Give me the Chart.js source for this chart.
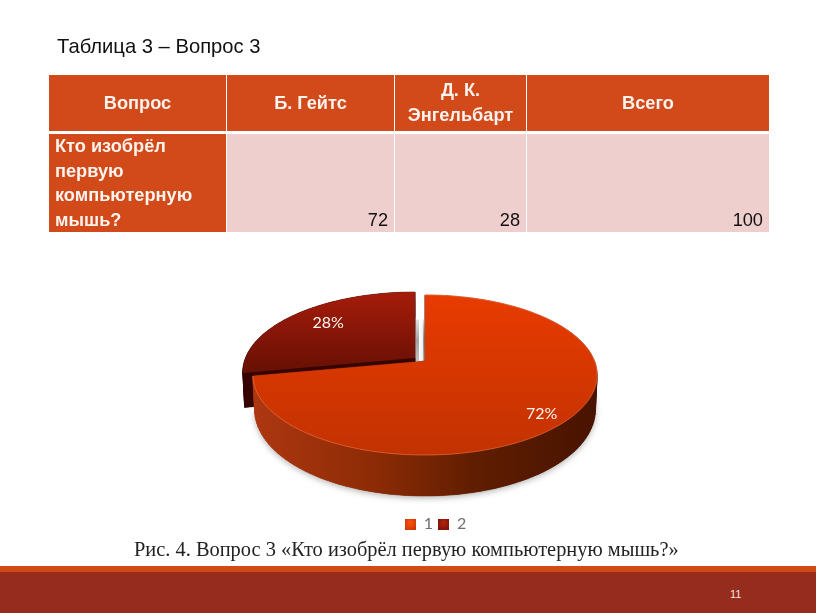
<!DOCTYPE html>
<html lang="ru">
<head>
<meta charset="utf-8">
<title>Таблица 3 – Вопрос 3</title>
<script src="https://cdn.jsdelivr.net/npm/chart.js@4/dist/chart.umd.js"></script>
<style>
  html, body { margin: 0; padding: 0; background: #fff; }
  #slide { position: relative; width: 816px; height: 613px; overflow: hidden; font-family: "Liberation Sans", Arial, sans-serif; }
  #grafico { position: absolute; left: 0; top: 0; }
  #titulo { position: absolute; left: 57px; top: 34px; font-size: 20.2px; line-height: 24px; color: #111; white-space: nowrap; }
  #tabela { position: absolute; left: 49px; top: 75px; width: 720px; border-collapse: separate; border-spacing: 0; table-layout: fixed; font-size: 18.2px; }
  #tabela th { background: #d2491a; color: #fbf3ee; height: 59px; padding: 0 4px; font-weight: bold; text-align: center; line-height: 25px; border-right: 1px solid #fff; border-bottom: 3px solid #fff; box-sizing: border-box; }
  #tabela td { background: #eecfcd; color: #111; height: 98px; padding: 0 6px 2px 0; text-align: right; vertical-align: bottom; line-height: 20px; border-right: 1px solid #fff; box-sizing: border-box; }
  #tabela td.pergunta { background: #d2491a; color: #fbf3ee; font-weight: bold; text-align: left; padding: 0 0 0 6px; line-height: 24.5px; vertical-align: middle; }
  #tabela th:last-child, #tabela td:last-child { border-right: 0; }
  #legenda { position: absolute; left: 134px; top: 537px; font-family: "Liberation Serif", "Times New Roman", serif; font-size: 20.4px; line-height: 24px; color: #222; white-space: nowrap; }
  #faixa { position: absolute; left: 0; top: 566px; width: 816px; height: 47px; background: #962c1e; border-top: 6px solid #d14a17; box-sizing: border-box; }
  #pagina { position: absolute; left: 730px; top: 588px; font-size: 11px; line-height: 12px; color: #f3e6e0; }
</style>
</head>
<body>
<div id="slide">
  <canvas id="grafico" width="816" height="613"></canvas>
  <div id="titulo">Таблица 3 – Вопрос 3</div>
  <table id="tabela">
    <colgroup><col style="width:178px"><col style="width:168px"><col style="width:132px"><col style="width:242px"></colgroup>
    <tr id="cabecalho"></tr>
    <tr id="linha"></tr>
  </table>
  <div id="legenda">Рис. 4. Вопрос 3 «Кто изобрёл первую компьютерную мышь?»</div>
  <div id="faixa"></div>
  <div id="pagina">11</div>
</div>
<script>
const categorias = ['1', '2'];
const valores = [72, 28];
const colunas = ['Вопрос', 'Б. Гейтс', 'Д. К. Энгельбарт', 'Всего'];
const pergunta = 'Кто изобрёл первую компьютерную мышь?';
const respostas = [72, 28, 100];

// tabela do slide
colunas.forEach(function (c) {
  const th = document.createElement('th');
  th.textContent = c;
  document.getElementById('cabecalho').appendChild(th);
});
const tdPergunta = document.createElement('td');
tdPergunta.className = 'pergunta';
tdPergunta.textContent = pergunta;
document.getElementById('linha').appendChild(tdPergunta);
respostas.forEach(function (r) {
  const td = document.createElement('td');
  td.textContent = r;
  document.getElementById('linha').appendChild(td);
});

// geometria da pizza em perspectiva
const centroX = 425, centroY = 361;
const raioX = 169.5, inclina = 14.4, perspectiva = -0.175;
const deslocamento = [[0, 0], [-10, -3]]; // fatia 2 puxada para fora
const ajusteRotulo = [[2, 9], [9, 1]];

function projetar(u, v, fatia, fundo) {
  const den = 1 + perspectiva * v;
  const d = deslocamento[fatia];
  let x = centroX + raioX * u / den + d[0];
  let y = (centroY + inclina * v) / den + d[1];
  if (fundo) {
    x = centroX + (x - centroX) * 0.99;
    y += 33 + 8 * v;
  }
  return [x, y];
}

function contorno(arco, fatia, fundo) {
  const pts = [projetar(0, 0, fatia, fundo)];
  for (let i = 0; i <= 120; i++) {
    const a = arco.startAngle + (arco.endAngle - arco.startAngle) * i / 120;
    pts.push(projetar(Math.cos(a), Math.sin(a), fatia, fundo));
  }
  return pts;
}

function tracar(ctx, pts, fechar) {
  ctx.beginPath();
  pts.forEach(function (p, i) {
    if (i === 0) ctx.moveTo(p[0], p[1]); else ctx.lineTo(p[0], p[1]);
  });
  if (fechar) ctx.closePath();
}

function gradiente(ctx, x0, y0, x1, y1, paradas) {
  const g = ctx.createLinearGradient(x0, y0, x1, y1);
  paradas.forEach(function (p) { g.addColorStop(p[0], p[1]); });
  return g;
}

function desenharLateral(ctx, arco, fatia) {
  const topo = contorno(arco, fatia, false);
  const base = contorno(arco, fatia, true);
  ctx.save();
  if (fatia === 0) {
    ctx.fillStyle = gradiente(ctx, 255, 0, 597, 0, [[0, '#ad3711'], [0.35, '#8c2b05'], [0.65, '#5f1d01'], [1, '#481300']]);
    ctx.shadowColor = 'rgba(0,0,0,0.3)';
    ctx.shadowBlur = 6;
    ctx.shadowOffsetY = 2;
  } else {
    ctx.fillStyle = '#370500';
  }
  // cada trecho do contorno vira um quadrilatero ate a base
  tracar(ctx, base, true);
  ctx.fill();
  ctx.shadowColor = 'transparent';
  for (let i = 0; i < topo.length; i++) {
    const j = (i + 1) % topo.length;
    tracar(ctx, [topo[i], topo[j], base[j], base[i]], true);
    ctx.fill();
    ctx.strokeStyle = ctx.fillStyle;
    ctx.lineWidth = 0.5;
    ctx.stroke();
  }
  ctx.restore();
}

function desenharTopo(ctx, arco, fatia) {
  const pts = contorno(arco, fatia, false);
  ctx.save();
  ctx.fillStyle = fatia === 0
    ? gradiente(ctx, 0, 294, 0, 456, [[0, '#e83b00'], [1, '#c23202']])
    : gradiente(ctx, 0, 292, 0, 376, [[0, '#a61c0a'], [1, '#640f04']]);
  tracar(ctx, pts, true);
  ctx.fill();
  if (fatia === 0) {
    // brilho fino na borda da frente
    ctx.strokeStyle = 'rgba(255,125,70,0.55)';
    ctx.lineWidth = 1;
    tracar(ctx, pts.slice(1), false);
    ctx.stroke();
  }
  ctx.restore();
}

const pizza3d = {
  id: 'pizza3d',
  beforeDatasetDraw: function (chart, args) {
    const ctx = chart.ctx;
    const arcos = chart.getDatasetMeta(args.index).data;
    // sombra cinza dentro do corte entre as fatias
    const a = projetar(0, 0, 0, false), t = projetar(0, -0.59, 0, false);
    ctx.fillStyle = gradiente(ctx, 0, t[1], 0, a[1], [[0, 'rgba(150,150,150,0.3)'], [0.5, 'rgba(140,140,140,0.8)'], [1, 'rgba(150,150,150,0.6)']]);
    ctx.fillRect(a[0] - 2, t[1], 2, a[1] - t[1]);
    ctx.fillRect(a[0] - 9, t[1], 3, a[1] - t[1]);

    desenharLateral(ctx, arcos[1], 1);
    desenharTopo(ctx, arcos[1], 1);
    desenharLateral(ctx, arcos[0], 0);
    desenharTopo(ctx, arcos[0], 0);

    // rotulos em porcentagem
    const total = valores.reduce(function (s, v) { return s + v; }, 0);
    ctx.save();
    ctx.font = '16px Lato, "Open Sans", sans-serif';
    ctx.textAlign = 'center';
    ctx.textBaseline = 'middle';
    ctx.fillStyle = '#fff4ee';
    arcos.forEach(function (arco, i) {
      const m = (arco.startAngle + arco.endAngle) / 2;
      const p = projetar(Math.cos(m) * 0.8, Math.sin(m) * 0.8, i, false);
      ctx.fillText(Math.round(valores[i] * 100 / total) + '%', p[0] + ajusteRotulo[i][0], p[1] + ajusteRotulo[i][1]);
    });
    ctx.restore();
    return false; // o arco plano padrao nao e desenhado
  }
};

function quadradinho(claro, escuro) {
  const c = document.createElement('canvas');
  c.width = 11;
  c.height = 11;
  const x = c.getContext('2d');
  const g = x.createRadialGradient(5.5, 4, 1, 5.5, 5.5, 8);
  g.addColorStop(0, claro);
  g.addColorStop(1, escuro);
  x.fillStyle = g;
  x.fillRect(0, 0, 11, 11);
  return c;
}
const marcadores = [quadradinho('#f4540f', '#c93103'), quadradinho('#b3200f', '#6e1206')];

new Chart(document.getElementById('grafico'), {
  type: 'pie',
  data: {
    labels: categorias,
    datasets: [{
      data: valores,
      backgroundColor: ['#dc3a03', '#8f1a0a'],
      borderWidth: 0
    }]
  },
  plugins: [pizza3d],
  options: {
    responsive: false,
    animation: false,
    layout: { padding: { left: 55, bottom: 71 } },
    plugins: {
      tooltip: { enabled: false },
      legend: {
        position: 'bottom',
        labels: {
          usePointStyle: true,
          boxWidth: 11,
          boxHeight: 11,
          padding: 5,
          color: '#6f6f6f',
          font: { family: 'Lato, "Open Sans", sans-serif', size: 16 },
          generateLabels: function (chart) {
            return chart.data.labels.map(function (rotulo, i) {
              return { text: rotulo, pointStyle: marcadores[i], fontColor: '#6f6f6f', index: i, hidden: false };
            });
          }
        }
      }
    }
  }
});
</script>
</body>
</html>
